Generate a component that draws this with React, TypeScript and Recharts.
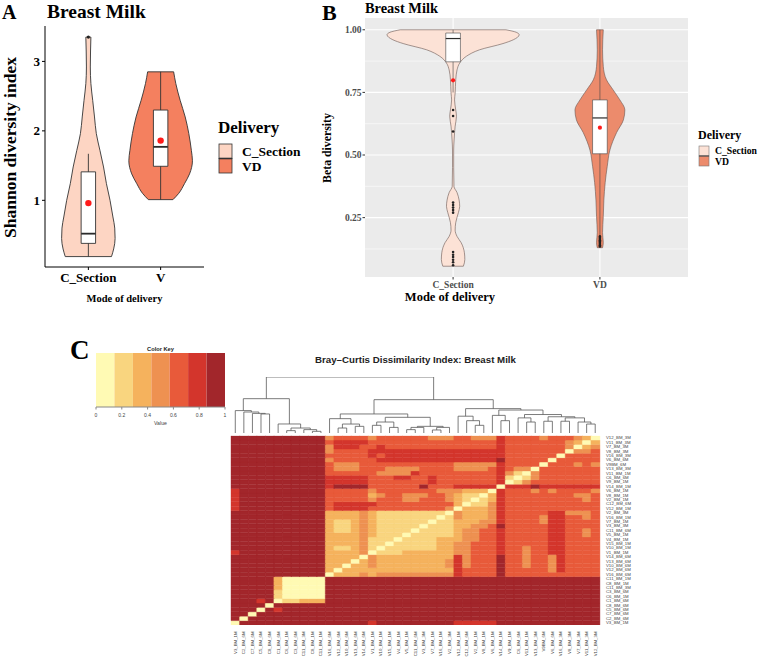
import React from "react";
import {
  ComposedChart,
  Area,
  XAxis,
  YAxis,
  CartesianGrid,
  ReferenceArea,
  ReferenceLine,
  ReferenceDot,
  BarChart,
  Bar,
  Cell,
  ScatterChart,
  Scatter,
} from "recharts";

const SERIF = '"Liberation Serif", "Times New Roman", serif';
const SANS = '"Liberation Sans", Arial, sans-serif';

// ---------- Panel A: Shannon diversity ----------
const GROUPS_A = ["C_Section", "V"];
// violin outline: value and half width (in category units)
const A_CS_Y = [0.19, 0.3, 0.45, 0.6, 0.76, 1.0, 1.24, 1.48, 1.72, 1.96, 2.2, 2.44, 2.68, 2.92, 3.15, 3.35];
const A_CS_W = [0.32, 0.35, 0.37, 0.365, 0.34, 0.3, 0.25, 0.21, 0.16, 0.11, 0.085, 0.06, 0.035, 0.027, 0.03, 0.035];
const A_VD_Y = [1.01, 1.1, 1.24, 1.38, 1.57, 1.72, 1.96, 2.2, 2.44, 2.68, 2.85];
const A_VD_W = [0.17, 0.25, 0.33, 0.4, 0.44, 0.425, 0.39, 0.34, 0.27, 0.21, 0.18];
// [min, q1, median, q3, max, mean]
const A_CS_BOX = [0.19, 0.38, 0.52, 1.41, 1.67, 0.96];
const A_VD_BOX = [1.01, 1.49, 1.77, 2.3, 2.85, 1.86];
const A_CS_OUT = [3.35];
const A_VD_OUT: number[] = [];
const A_TICKS = [1, 2, 3];

// ---------- Panel B: Beta diversity ----------
const GROUPS_B = ["C_Section", "VD"];
const B_CS_Y = [0.056, 0.083, 0.11, 0.15, 0.175, 0.2, 0.23, 0.27, 0.295, 0.32, 0.35, 0.375, 0.45, 0.52, 0.56, 0.615, 0.655, 0.68, 0.72, 0.747, 0.8, 0.84, 0.867, 0.894, 0.92, 0.945, 0.96, 0.98, 0.99, 1.0];
const B_CS_W = [0.07, 0.08, 0.077, 0.055, 0.027, 0.014, 0.018, 0.036, 0.045, 0.041, 0.027, 0.006, 0.004, 0.004, 0.007, 0.014, 0.023, 0.018, 0.01, 0.014, 0.018, 0.027, 0.045, 0.09, 0.18, 0.34, 0.41, 0.45, 0.43, 0.36];
const B_VD_Y = [0.13, 0.15, 0.19, 0.255, 0.32, 0.39, 0.455, 0.52, 0.59, 0.64, 0.68, 0.72, 0.76, 0.8, 0.854, 0.92, 1.0];
const B_VD_W = [0.018, 0.023, 0.018, 0.023, 0.027, 0.036, 0.05, 0.068, 0.114, 0.16, 0.17, 0.136, 0.09, 0.045, 0.023, 0.018, 0.023];
const B_CS_BOX = [0.75, 0.872, 0.965, 0.987, 1.0, 0.798];
const B_VD_BOX = [0.18, 0.505, 0.648, 0.72, 1.0, 0.609];
const B_CS_OUT = [0.68, 0.656, 0.594, 0.31, 0.3, 0.29, 0.28, 0.27, 0.113, 0.102, 0.093, 0.082, 0.072, 0.06];
const B_VD_OUT = [0.175, 0.17, 0.165, 0.16, 0.155, 0.15, 0.145, 0.14, 0.135];
const B_TICKS = [0.25, 0.5, 0.75, 1.0];
const B_MINOR = [0.125, 0.375, 0.625, 0.875];

// ---------- Panel C: Bray-Curtis heatmap ----------
const KEY_COLORS = ["#FFFAB4", "#F9D57F", "#F5B25D", "#EE9151", "#E85A3A", "#D3352C", "#A2262B"];
const KEY_BREAKS = [0, 0.143, 0.286, 0.429, 0.571, 0.714, 0.857, 1];
const KEY_TICKS = [0, 0.2, 0.4, 0.6, 0.8, 1];

const COL_NAMES = [
  "V3_BM_1M", "C2_BM_6M", "C7_BM_6M", "C5_BM_6M", "C8_BM_6M", "C1_BM_6M", "C6_BM_1M", "C3_BM_6M",
  "C11_BM_3M", "C8_BM_1M", "C11_BM_1M", "V16_BM_6M", "V12_BM_6M", "V10_BM_6M", "V13_BM_6M", "V14_BM_6M",
  "V1_BM_1M", "V10_BM_1M", "V15_BM_1M", "V4_BM_1M", "V5_BM_1M", "C11_BM_6M", "V3_BM_3M", "V7_BM_1M",
  "V16_BM_1M", "V2_BM_3M", "V12_BM_1M", "C12_BM_6M", "V2_BM_1M", "V8_BM_1M", "V6_BM_1M", "V14_BM_1M",
  "V9_BM_1M", "C6_BM_6M", "V11_BM_1M", "V13_BM_3M", "V9BM_6M", "V6_BM_6M", "V16_BM_3M", "V8_BM_3M",
  "V7_BM_3M", "V11_BM_3M", "V12_BM_3M",
];
const ROW_NAMES = [...COL_NAMES].reverse();

// dissimilarity per cell, as colour-key class 0..6 (rows top to bottom, columns left to right)
const HEAT_ROWS = [
  "66666666666 34444 3444 444333 4433 3544443444320",
  "66666666666 45555 4444 444444 4444 4544444443202",
  "66666666666 35554 4544 444444 4444 4544444443023",
  "66666666666 34444 5555 555555 5555 5544444440334",
  "66666666666 44444 5455 555555 5555 5544444404444",
  "66666666666 34444 4555 555555 5555 5644444044444",
  "66666666666 43334 4444 444444 3333 3544440444343",
  "66666666666 43334 4433 334444 3333 4543304444444",
  "66666666666 44444 4333 354444 4444 4531034444444",
  "66666666666 55555 4445 544544 4444 4510134444444",
  "66666666666 55555 4444 444544 4444 4501344444444",
  "66666666666 56666 4444 446444 5555 5055565555555",
  "56666666666 44444 3444 444433 3222 0544434344443",
  "56666666666 44444 2344 333443 2110 2544444444334",
  "56666666666 44444 3444 334443 2101 2544444444434",
  "56666666666 45555 5444 444444 2011 3544444444444",
  "56666666666 45555 4444 444443 0222 3544444444444",
  "66666666666 22223 2111 111110 3222 3544444553334",
  "66666666666 22223 2111 111101 3222 3544443554434",
  "66666666666 21123 2111 111011 2223 3544443554444",
  "66666666666 21123 2111 110111 2233 4644444554444",
  "66666666666 21123 2111 101111 2334 4544444554434",
  "66666666666 22223 2111 011111 2334 4544444554434",
  "66666666666 22223 1110 111122 2334 4544444554444",
  "66666666666 22223 1101 111122 3344 4544444554444",
  "66666666666 21123 1011 111122 3344 4544344554444",
  "56666666666 22223 0111 222222 3344 4544344554444",
  "66666666666 22220 3222 222222 5344 4644344354444",
  "66666666666 22202 3222 222223 5344 4644344354444",
  "66666666666 22022 3222 222223 5344 4644344354444",
  "66666666666 20222 2222 222222 5444 4644444354444",
  "66666666666 02223 2333 333333 5444 4644444444444",
  "66666200000 66666 6666 666666 6666 6666666666666",
  "66666200000 66666 6666 666666 6666 6666666666666",
  "66666200000 66666 6666 666666 6666 6666666666666",
  "66666100000 66666 6666 666666 6666 6666666666666",
  "66666100000 66666 6666 666666 6666 6666666666666",
  "66656011222 66666 6666 666666 6666 6666666666666",
  "66660666666 66666 6666 666666 6666 6666666666666",
  "66606566666 66666 6666 666666 6666 6666666666666",
  "66066666666 66666 6666 666666 6666 6666666666666",
  "60666666666 66666 6666 666666 6666 6666666666666",
  "06666666666 66666 5666 666666 5555 5666666666666",
].map((r) => r.replace(/ /g, ""));

// column dendrogram, hclust style: negative = leaf column, positive = earlier merge
const DENDRO_MERGES: [number, number, number][] = [
  [-4, -5, 0.34], [-3, 1, 0.35], [-2, 2, 0.375], [-1, 3, 0.4],
  [-10, -11, 0.03], [-9, 5, 0.06], [-7, -8, 0.042], [7, 6, 0.089], [-6, 8, 0.161], [4, 9, 0.613],
  [-13, -14, 0.089], [-15, -16, 0.119], [11, 12, 0.16], [-12, 13, 0.256],
  [-17, -18, 0.137], [-19, -20, 0.1], [15, 16, 0.196],
  [-21, -22, 0.06], [18, -23, 0.1], [-24, -25, 0.054], [20, -26, 0.1], [19, 21, 0.119], [17, 22, 0.28], [14, 23, 0.34],
  [-29, -30, 0.137], [-28, 25, 0.22], [-27, 26, 0.3],
  [-32, -33, 0.22], [-31, 28, 0.315], [-35, -36, 0.196], [-34, 30, 0.27], [-37, -38, 0.21],
  [-42, -43, 0.16], [-41, 33, 0.196], [-39, -40, 0.21], [35, 34, 0.27], [32, 36, 0.29], [31, 37, 0.33],
  [29, 38, 0.41], [27, 39, 0.435], [24, 40, 0.595], [10, 41, 1.0],
];

// ---------- colours ----------
const A_FILL = ["#FDD5C3", "#F4805F"];
const B_FILL = ["#FCE2D6", "#EC8B6C"];

type Style = { line: string; lw: number; boxLine: string; boxLw: number; boxHalf: number; meanR: number; outR: number; medW: number };

const A_STYLE: Style = { line: "#333333", lw: 0.9, boxLine: "#333333", boxLw: 0.9, boxHalf: 0.1, meanR: 3.2, outR: 1.6, medW: 1.8 };
const B_STYLE: Style = { line: "#6a5650", lw: 0.6, boxLine: "#444444", boxLw: 0.6, boxHalf: 0.05, meanR: 2.1, outR: 1.3, medW: 1.2 };

function violinParts(
  key: string,
  pos: number,
  ys: number[],
  ws: number[],
  box: number[],
  out: number[],
  fill: string,
  st: Style
) {
  const data = ys.map((y, i) => ({ y, band: [pos - ws[i], pos + ws[i]] }));
  const first = data[0];
  const last = data[data.length - 1];
  const [mn, q1, med, q3, mx, mean] = box;
  const h = st.boxHalf;
  return [
    <Area
      key={key + "v"}
      data={data}
      dataKey="band"
      type="monotone"
      fill={fill}
      fillOpacity={1}
      stroke={st.line}
      strokeWidth={st.lw}
      dot={false}
      activeDot={false}
      isAnimationActive={false}
    />,
    <ReferenceLine key={key + "e0"} ifOverflow="visible" stroke={st.line} strokeWidth={st.lw}
      segment={[{ x: first.band[0], y: first.y }, { x: first.band[1], y: first.y }]} />,
    <ReferenceLine key={key + "e1"} ifOverflow="visible" stroke={st.line} strokeWidth={st.lw}
      segment={[{ x: last.band[0], y: last.y }, { x: last.band[1], y: last.y }]} />,
    <ReferenceLine key={key + "w0"} ifOverflow="visible" stroke={st.boxLine} strokeWidth={st.boxLw}
      segment={[{ x: pos, y: mn }, { x: pos, y: q1 }]} />,
    <ReferenceLine key={key + "w1"} ifOverflow="visible" stroke={st.boxLine} strokeWidth={st.boxLw}
      segment={[{ x: pos, y: q3 }, { x: pos, y: mx }]} />,
    <ReferenceArea key={key + "b"} ifOverflow="visible" x1={pos - h} x2={pos + h} y1={q1} y2={q3}
      fill="#FFFFFF" fillOpacity={1} stroke={st.boxLine} strokeWidth={st.boxLw} />,
    <ReferenceLine key={key + "m"} ifOverflow="visible" stroke="#2b2b2b" strokeWidth={st.medW}
      segment={[{ x: pos - h, y: med }, { x: pos + h, y: med }]} />,
    ...out.map((o, i) => (
      <ReferenceDot key={key + "o" + i} x={pos} y={o} r={st.outR} fill="#222222" stroke="none" ifOverflow="visible" />
    )),
    <ReferenceDot key={key + "mean"} x={pos} y={mean} r={st.meanR} fill="#FF1A1A" stroke="none" ifOverflow="visible" />,
  ];
}

const PanelA = () => (
  <ComposedChart layout="vertical" width={215} height={300} margin={{ top: 26, right: 11, bottom: 0, left: 5 }}>
    <XAxis
      type="number"
      domain={[0.4, 2.6]}
      ticks={[1, 2]}
      allowDataOverflow
      tickFormatter={(v: number) => GROUPS_A[v - 1]}
      height={33}
      tickSize={3}
      tickMargin={3}
      stroke="#000"
      tick={{ fill: "#000", fontSize: 13, fontWeight: 700, fontFamily: SERIF }}
    />
    <YAxis
      type="number"
      dataKey="y"
      reversed
      domain={[0.04, 3.51]}
      ticks={A_TICKS}
      allowDataOverflow
      width={40}
      tickSize={3}
      tickMargin={2}
      stroke="#000"
      tick={{ fill: "#000", fontSize: 13, fontWeight: 700, fontFamily: SERIF }}
    />
    {violinParts("acs", 1, A_CS_Y, A_CS_W, A_CS_BOX, A_CS_OUT, A_FILL[0], A_STYLE)}
    {violinParts("avd", 2, A_VD_Y, A_VD_W, A_VD_BOX, A_VD_OUT, A_FILL[1], A_STYLE)}
  </ComposedChart>
);

const PanelB = () => (
  <ComposedChart layout="vertical" width={395} height={310} margin={{ top: 18, right: 7, bottom: 0, left: 25 }}>
    <CartesianGrid fill="#EBEBEB" stroke="#FFFFFF" strokeWidth={0.55} horizontalValues={B_MINOR} vertical={false} />
    <CartesianGrid stroke="#FFFFFF" strokeWidth={1.1} horizontalValues={B_TICKS} verticalValues={[1, 2]} />
    <XAxis
      type="number"
      domain={[0.4, 2.6]}
      ticks={[1, 2]}
      allowDataOverflow
      tickFormatter={(v: number) => GROUPS_B[v - 1]}
      height={33}
      axisLine={false}
      tickSize={2.5}
      tickMargin={1.8}
      tickLine={{ stroke: "#333" }}
      tick={{ fill: "#4D4D4D", fontSize: 9.5, fontWeight: 700, fontFamily: SERIF }}
    />
    <YAxis
      type="number"
      dataKey="y"
      reversed
      domain={[0.013, 1.047]}
      ticks={B_TICKS}
      allowDataOverflow
      tickFormatter={(v: number) => v.toFixed(2)}
      width={40}
      axisLine={false}
      tickSize={2.5}
      tickMargin={1}
      tickLine={{ stroke: "#333" }}
      tick={{ fill: "#4D4D4D", fontSize: 9.5, fontWeight: 700, fontFamily: SERIF }}
    />
    {violinParts("bcs", 1, B_CS_Y, B_CS_W, B_CS_BOX, B_CS_OUT, B_FILL[0], B_STYLE)}
    {violinParts("bvd", 2, B_VD_Y, B_VD_W, B_VD_BOX, B_VD_OUT, B_FILL[1], B_STYLE)}
  </ComposedChart>
);

const keyRow: Record<string, number | string> = { name: "Value" };
KEY_COLORS.forEach((_, i) => {
  keyRow[`b${i}`] = KEY_BREAKS[i + 1] - KEY_BREAKS[i];
});

const ColorKey = () => (
  <BarChart layout="vertical" width={139} height={72} data={[keyRow]} margin={{ top: 0, right: 5, bottom: 0, left: 5 }} barCategoryGap={0}>
    <XAxis
      type="number"
      domain={[0, 1]}
      ticks={KEY_TICKS}
      allowDataOverflow
      height={18}
      tickSize={2.5}
      tickMargin={3.5}
      stroke="#888"
      tick={{ fill: "#444", fontSize: 5, fontFamily: SANS }}
    />
    <YAxis type="category" dataKey="name" hide />
    {KEY_COLORS.map((c, i) => (
      <Bar key={i} dataKey={`b${i}`} stackId="k" fill={c} isAnimationActive={false} />
    ))}
  </BarChart>
);

const dendroLinks = (() => {
  const pos: number[] = [];
  const ht: number[] = [];
  const node = (id: number) => (id < 0 ? { x: -id, y: 0 } : { x: pos[id - 1], y: ht[id - 1] });
  return DENDRO_MERGES.map(([a, b, h], i) => {
    const A = node(a);
    const B = node(b);
    pos[i] = (A.x + B.x) / 2;
    ht[i] = h;
    return [
      { x: A.x, y: A.y },
      { x: A.x, y: h },
      { x: B.x, y: h },
      { x: B.x, y: B.y },
    ];
  });
})();

const Dendrogram = () => (
  <ScatterChart width={368.5} height={60} margin={{ top: 4, right: 0, bottom: 0, left: 0 }}>
    <XAxis type="number" dataKey="x" domain={[0.5, COL_NAMES.length + 0.5]} allowDataOverflow hide />
    <YAxis type="number" dataKey="y" domain={[0, 1]} allowDataOverflow hide />
    {dendroLinks.map((pts, i) => (
      <Scatter
        key={i}
        data={pts}
        line={{ stroke: "#5a5a5a", strokeWidth: 0.8 }}
        shape={() => <g />}
        isAnimationActive={false}
      />
    ))}
  </ScatterChart>
);

const heatData = COL_NAMES.map((name) => {
  const o: Record<string, number | string> = { name };
  ROW_NAMES.forEach((_, k) => {
    o[`s${k}`] = 1;
  });
  return o;
});

const Heatmap = () => (
  <BarChart width={440} height={240} data={heatData} margin={{ top: 10.7, right: 0, bottom: 10, left: 10 }} barCategoryGap={0} barGap={0}>
    <XAxis
      dataKey="name"
      interval={0}
      height={30}
      axisLine={false}
      tickLine={false}
      tickSize={0}
      tickMargin={6.5}
      tick={(p: any) => (
        <text
          x={p.x}
          y={p.y}
          transform={`rotate(-90 ${p.x} ${p.y})`}
          textAnchor="end"
          dominantBaseline="central"
          fontSize={4.3}
          fontFamily={SANS}
          fill="#444"
        >
          {p.payload.value}
        </text>
      )}
    />
    <YAxis
      orientation="right"
      type="number"
      domain={[0, ROW_NAMES.length]}
      ticks={ROW_NAMES.map((_, k) => k + 0.5)}
      interval={0}
      allowDataOverflow
      width={61.5}
      axisLine={false}
      tickLine={false}
      tickSize={0}
      tickMargin={6.5}
      tick={(p: any) => (
        <text x={p.x} y={p.y} textAnchor="start" dominantBaseline="central" fontSize={4.3} fontFamily={SANS} fill="#444">
          {ROW_NAMES[ROW_NAMES.length - 1 - Math.floor(p.payload.value)]}
        </text>
      )}
    />
    {ROW_NAMES.map((_, k) => {
      const row = HEAT_ROWS[HEAT_ROWS.length - 1 - k];
      return (
        <Bar key={k} dataKey={`s${k}`} stackId="h" isAnimationActive={false}>
          {COL_NAMES.map((__, j) => {
            const c = KEY_COLORS[Number(row[j])];
            return <Cell key={j} fill={c} stroke={c} strokeWidth={0.4} />;
          })}
        </Bar>
      );
    })}
  </BarChart>
);

const Overlay = () => (
  <svg width={758} height={667} style={{ position: "absolute", left: 0, top: 0, pointerEvents: "none" }}>
    <g fontFamily={SERIF} fontWeight={700} fill="#000">
      {/* panel A */}
      <text x={2} y={19} fontSize={20}>A</text>
      <text x={47} y={17.5} fontSize={19.5}>Breast Milk</text>
      <text x={16} y={147.5} fontSize={17.5} textAnchor="middle" transform="rotate(-90 16 147.5)">
        Shannon diversity index
      </text>
      <text x={124.5} y={302} fontSize={10.5} textAnchor="middle">Mode of delivery</text>
      <text x={218} y={133} fontSize={17}>Delivery</text>
      <rect x={219} y={144} width={13} height={14.5} fill={A_FILL[0]} stroke="#333" strokeWidth={0.8} />
      <rect x={219} y={158.5} width={13} height={14.5} fill={A_FILL[1]} stroke="#333" strokeWidth={0.8} />
      <line x1={219} x2={232} y1={158.5} y2={158.5} stroke="#333" strokeWidth={1.6} />
      <text x={242} y={155.5} fontSize={13.5}>C_Section</text>
      <text x={242} y={170.5} fontSize={13.5}>VD</text>

      {/* panel B */}
      <text x={322} y={20} fontSize={22}>B</text>
      <text x={365} y={12.5} fontSize={14.4}>Breast Milk</text>
      <text x={331} y={148} fontSize={11.8} textAnchor="middle" transform="rotate(-90 331 148)">
        Beta diversity
      </text>
      <text x={450} y={301} fontSize={12.5} textAnchor="middle">Mode of delivery</text>
      <text x={698} y={139.3} fontSize={12}>Delivery</text>
      <rect x={699} y={146} width={10} height={10} fill={B_FILL[0]} stroke="#777" strokeWidth={0.6} />
      <rect x={699} y={156} width={10} height={10} fill={B_FILL[1]} stroke="#777" strokeWidth={0.6} />
      <line x1={699} x2={709} y1={156} y2={156} stroke="#444" strokeWidth={1} />
      <text x={715} y={154.3} fontSize={9.7}>C_Section</text>
      <text x={715} y={164.5} fontSize={9.7}>VD</text>

      {/* panel C */}
      <text x={70} y={359.3} fontSize={27}>C</text>
    </g>
    <g fontFamily={SANS} fill="#222">
      <text x={160.5} y={350.5} fontSize={5.7} fontWeight={700} textAnchor="middle">Color Key</text>
      <text x={160.5} y={425} fontSize={5.2} textAnchor="middle" fill="#444">Value</text>
      <text x={415.5} y={363} fontSize={9.7} fontWeight={700} textAnchor="middle">
        Bray–Curtis Dissimilarity Index: Breast Milk
      </text>
    </g>
  </svg>
);

export default function App() {
  return (
    <div style={{ position: "absolute", left: 0, top: 0, width: 758, height: 667, background: "#fff", overflow: "hidden" }}>
      <div style={{ position: "absolute", left: 0, top: 0 }}>
        <PanelA />
      </div>
      <div style={{ position: "absolute", left: 300, top: 0 }}>
        <PanelB />
      </div>
      <div style={{ position: "absolute", left: 91, top: 353 }}>
        <ColorKey />
      </div>
      <div style={{ position: "absolute", left: 231, top: 373 }}>
        <Dendrogram />
      </div>
      <div style={{ position: "absolute", left: 221, top: 425 }}>
        <Heatmap />
      </div>
      <Overlay />
    </div>
  );
}
